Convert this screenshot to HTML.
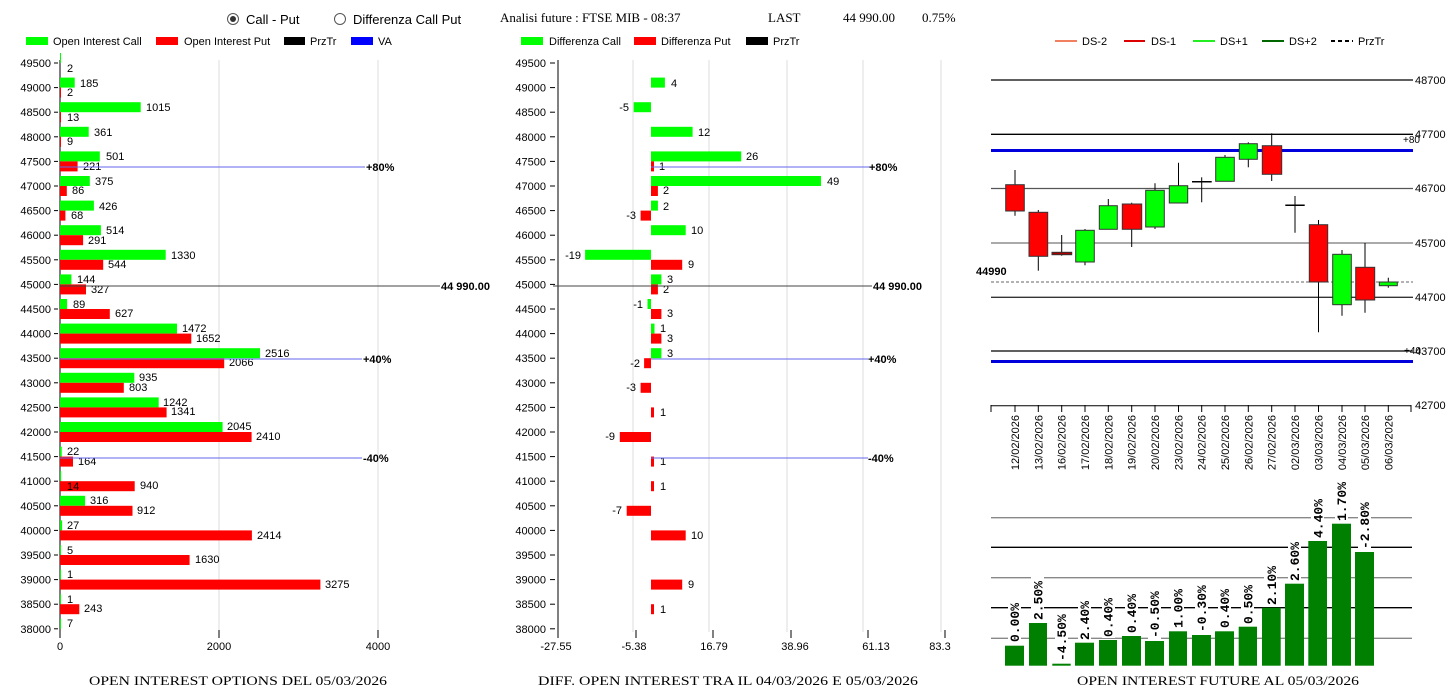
<!DOCTYPE html>
<html><head><meta charset="utf-8"><style>
html,body{margin:0;padding:0;background:#fff;width:1453px;height:690px;overflow:hidden}
svg{display:block}
.s{font-family:"Liberation Sans",sans-serif;font-size:11px;fill:#000}
.h{font-family:"Liberation Sans",sans-serif;font-size:13px;fill:#000}
.f{font-family:"Liberation Serif",serif;font-size:13px;fill:#000}
.b{font-family:"Liberation Sans",sans-serif;font-size:11px;font-weight:bold;fill:#000}
.m{font-family:"Liberation Mono",monospace;font-size:13px;font-weight:bold;fill:#000}
</style></head><body>
<svg width="1453" height="690" xmlns="http://www.w3.org/2000/svg">
<!-- header -->
<circle cx="233" cy="19" r="5.5" fill="#fff" stroke="#555"/><circle cx="233" cy="19" r="3" fill="#333"/>
<text class="h" x="246" y="24">Call - Put</text>
<circle cx="340" cy="19" r="5.5" fill="#fff" stroke="#555"/>
<text class="h" x="353" y="24">Differenza Call Put</text>
<text class="f" x="500" y="22">Analisi future : FTSE MIB - 08:37</text>
<text class="f" x="768" y="22">LAST</text>
<text class="f" x="843" y="22">44 990.00</text>
<text class="f" x="922" y="22">0.75%</text>
<!-- legends -->
<rect x="26" y="37" width="22" height="8" fill="#00ff00"/><text class="s" x="53" y="45">Open Interest Call</text>
<rect x="156" y="37" width="22" height="8" fill="#ff0000"/><text class="s" x="184" y="45">Open Interest Put</text>
<rect x="284" y="37" width="21" height="8" fill="#000"/><text class="s" x="310" y="45">PrzTr</text>
<rect x="351" y="37" width="22" height="8" fill="#0000ff"/><text class="s" x="378" y="45">VA</text>
<rect x="521" y="37" width="22" height="8" fill="#00ff00"/><text class="s" x="549" y="45">Differenza Call</text>
<rect x="634" y="37" width="22" height="8" fill="#ff0000"/><text class="s" x="661" y="45">Differenza Put</text>
<rect x="746" y="37" width="22" height="8" fill="#000"/><text class="s" x="773" y="45">PrzTr</text>
<line x1="1055" y1="41" x2="1077" y2="41" stroke="#f08060" stroke-width="2"/><text class="s" x="1082" y="45">DS-2</text>
<line x1="1124" y1="41" x2="1145" y2="41" stroke="#dd0000" stroke-width="2"/><text class="s" x="1151" y="45">DS-1</text>
<line x1="1193" y1="41" x2="1215" y2="41" stroke="#22ee22" stroke-width="2"/><text class="s" x="1220" y="45">DS+1</text>
<line x1="1262" y1="41" x2="1284" y2="41" stroke="#006600" stroke-width="2"/><text class="s" x="1289" y="45">DS+2</text>
<line x1="1331" y1="41" x2="1353" y2="41" stroke="#000" stroke-width="2" stroke-dasharray="4,3"/><text class="s" x="1358" y="45">PrzTr</text>

<!-- LEFT CHART -->
<g stroke="#dddddd"><line x1="219" y1="60" x2="219" y2="632"/><line x1="378" y1="60" x2="378" y2="632"/></g>
<line x1="60" y1="60" x2="60" y2="636" stroke="#000"/>
<g stroke="#000"><line x1="60" y1="630" x2="60" y2="638"/><line x1="219" y1="630" x2="219" y2="638"/><line x1="378" y1="630" x2="378" y2="638"/></g>
<text class="s" x="60" y="650" text-anchor="middle">0</text>
<text class="s" x="219" y="650" text-anchor="middle">2000</text>
<text class="s" x="378" y="650" text-anchor="middle">4000</text>
<g class="s" text-anchor="end">
<text x="51" y="67">49500</text><text x="51" y="91.6">49000</text><text x="51" y="116.2">48500</text><text x="51" y="140.8">48000</text><text x="51" y="165.4">47500</text><text x="51" y="190">47000</text><text x="51" y="214.6">46500</text><text x="51" y="239.2">46000</text><text x="51" y="263.8">45500</text><text x="51" y="288.4">45000</text><text x="51" y="313">44500</text><text x="51" y="337.6">44000</text><text x="51" y="362.2">43500</text><text x="51" y="386.8">43000</text><text x="51" y="411.4">42500</text><text x="51" y="436">42000</text><text x="51" y="460.6">41500</text><text x="51" y="485.2">41000</text><text x="51" y="509.8">40500</text><text x="51" y="534.4">40000</text><text x="51" y="559">39500</text><text x="51" y="583.6">39000</text><text x="51" y="608.2">38500</text><text x="51" y="632.8">38000</text>
</g>
<g stroke="#000"><line x1="54" y1="63" x2="58" y2="63"/><line x1="54" y1="87.6" x2="58" y2="87.6"/><line x1="54" y1="112.2" x2="58" y2="112.2"/><line x1="54" y1="136.8" x2="58" y2="136.8"/><line x1="54" y1="161.4" x2="58" y2="161.4"/><line x1="54" y1="186" x2="58" y2="186"/><line x1="54" y1="210.6" x2="58" y2="210.6"/><line x1="54" y1="235.2" x2="58" y2="235.2"/><line x1="54" y1="259.8" x2="58" y2="259.8"/><line x1="54" y1="284.4" x2="58" y2="284.4"/><line x1="54" y1="309" x2="58" y2="309"/><line x1="54" y1="333.6" x2="58" y2="333.6"/><line x1="54" y1="358.2" x2="58" y2="358.2"/><line x1="54" y1="382.8" x2="58" y2="382.8"/><line x1="54" y1="407.4" x2="58" y2="407.4"/><line x1="54" y1="432" x2="58" y2="432"/><line x1="54" y1="456.6" x2="58" y2="456.6"/><line x1="54" y1="481.2" x2="58" y2="481.2"/><line x1="54" y1="505.8" x2="58" y2="505.8"/><line x1="54" y1="530.4" x2="58" y2="530.4"/><line x1="54" y1="555" x2="58" y2="555"/><line x1="54" y1="579.6" x2="58" y2="579.6"/><line x1="54" y1="604.2" x2="58" y2="604.2"/><line x1="54" y1="628.8" x2="58" y2="628.8"/></g>
<g fill="#00ff00">
<rect x="60" y="53" width="1" height="10"/>
<rect x="60" y="77.6" width="14.7" height="10"/>
<rect x="60" y="102.2" width="80.7" height="10"/>
<rect x="60" y="126.8" width="28.7" height="10"/>
<rect x="60" y="151.4" width="39.8" height="10"/>
<rect x="60" y="176" width="29.8" height="10"/>
<rect x="60" y="200.6" width="33.9" height="10"/>
<rect x="60" y="225.2" width="40.9" height="10"/>
<rect x="60" y="249.8" width="105.7" height="10"/>
<rect x="60" y="274.4" width="11.4" height="10"/>
<rect x="60" y="299" width="7.1" height="10"/>
<rect x="60" y="323.6" width="117" height="10"/>
<rect x="60" y="348.2" width="200" height="10"/>
<rect x="60" y="372.8" width="74.3" height="10"/>
<rect x="60" y="397.4" width="98.7" height="10"/>
<rect x="60" y="422" width="162.6" height="10"/>
<rect x="60" y="446.6" width="1.7" height="10"/>
<rect x="60" y="471.2" width="1.1" height="10"/>
<rect x="60" y="495.8" width="25.1" height="10"/>
<rect x="60" y="520.4" width="2.1" height="10"/>
<rect x="60" y="545" width="1" height="10"/>
<rect x="60" y="569.6" width="1" height="10"/>
<rect x="60" y="594.2" width="1" height="10"/>
<rect x="60" y="618.8" width="1" height="10"/>
</g>
<g fill="#ff0000">
<rect x="60" y="87.6" width="1" height="10"/>
<rect x="60" y="112.2" width="1" height="10"/>
<rect x="60" y="136.8" width="1" height="10"/>
<rect x="60" y="161.4" width="17.6" height="10"/>
<rect x="60" y="186" width="6.8" height="10"/>
<rect x="60" y="210.6" width="5.4" height="10"/>
<rect x="60" y="235.2" width="23.1" height="10"/>
<rect x="60" y="259.8" width="43.2" height="10"/>
<rect x="60" y="284.4" width="26" height="10"/>
<rect x="60" y="309" width="49.8" height="10"/>
<rect x="60" y="333.6" width="131.3" height="10"/>
<rect x="60" y="358.2" width="164.2" height="10"/>
<rect x="60" y="382.8" width="63.8" height="10"/>
<rect x="60" y="407.4" width="106.6" height="10"/>
<rect x="60" y="432" width="191.6" height="10"/>
<rect x="60" y="456.6" width="13" height="10"/>
<rect x="60" y="481.2" width="74.7" height="10"/>
<rect x="60" y="505.8" width="72.5" height="10"/>
<rect x="60" y="530.4" width="191.9" height="10"/>
<rect x="60" y="555" width="129.6" height="10"/>
<rect x="60" y="579.6" width="260.4" height="10"/>
<rect x="60" y="604.2" width="19.3" height="10"/>
</g>
<g class="s">
<text x="67" y="72">2</text>
<text x="80" y="87">185</text><text x="67" y="96">2</text>
<text x="146" y="111">1015</text><text x="67" y="121">13</text>
<text x="94" y="136">361</text><text x="67" y="145">9</text>
<text x="106" y="160">501</text><text x="83" y="170">221</text>
<text x="95" y="185">375</text><text x="72" y="194">86</text>
<text x="99" y="210">426</text><text x="71" y="219">68</text>
<text x="106" y="234">514</text><text x="88" y="244">291</text>
<text x="171" y="259">1330</text><text x="108" y="268">544</text>
<text x="77" y="283">144</text><text x="91" y="293">327</text>
<text x="73" y="308">89</text><text x="115" y="317">627</text>
<text x="182" y="332">1472</text><text x="196" y="342">1652</text>
<text x="265" y="357">2516</text><text x="229" y="366">2066</text>
<text x="139" y="381">935</text><text x="129" y="391">803</text>
<text x="163" y="406">1242</text><text x="171" y="415">1341</text>
<text x="227" y="430">2045</text><text x="256" y="440">2410</text>
<text x="67" y="455">22</text><text x="78" y="465">164</text>
<text x="67" y="490">14</text><text x="140" y="489">940</text>
<text x="90" y="504">316</text><text x="137" y="514">912</text>
<text x="67" y="529">27</text><text x="257" y="539">2414</text>
<text x="67" y="554">5</text><text x="195" y="563">1630</text>
<text x="67" y="578">1</text><text x="325" y="588">3275</text>
<text x="67" y="603">1</text><text x="84" y="612">243</text>
<text x="67" y="627">7</text>
</g>
<line x1="60" y1="167" x2="365" y2="167" stroke="#6666ee"/><text class="b" x="366" y="171">+80%</text>
<line x1="60" y1="286" x2="440" y2="286" stroke="#444"/><text class="b" x="441" y="290">44 990.00</text>
<line x1="60" y1="359" x2="362" y2="359" stroke="#6666ee"/><text class="b" x="363" y="363">+40%</text>
<line x1="60" y1="458" x2="362" y2="458" stroke="#6666ee"/><text class="b" x="363" y="462">-40%</text>
<text class="f" x="89" y="685" textLength="298" lengthAdjust="spacingAndGlyphs">OPEN INTEREST OPTIONS DEL 05/03/2026</text>

<!-- MIDDLE CHART -->
<g stroke="#dddddd"><line x1="633" y1="60" x2="633" y2="632"/><line x1="709" y1="60" x2="709" y2="632"/><line x1="787" y1="60" x2="787" y2="632"/><line x1="863" y1="60" x2="863" y2="632"/><line x1="941" y1="60" x2="941" y2="632"/></g>
<line x1="558" y1="60" x2="558" y2="636" stroke="#000"/>
<g stroke="#000"><line x1="558" y1="630" x2="558" y2="638"/><line x1="636" y1="630" x2="636" y2="638"/><line x1="713" y1="630" x2="713" y2="638"/><line x1="791" y1="630" x2="791" y2="638"/><line x1="868" y1="630" x2="868" y2="638"/><line x1="945" y1="630" x2="945" y2="638"/></g>
<g class="s" text-anchor="middle"><text x="556" y="650">-27.55</text><text x="634" y="650">-5.38</text><text x="714" y="650">16.79</text><text x="795" y="650">38.96</text><text x="876" y="650">61.13</text><text x="940" y="650">83.3</text></g>
<g class="s" text-anchor="end">
<text x="546" y="67">49500</text><text x="546" y="91.6">49000</text><text x="546" y="116.2">48500</text><text x="546" y="140.8">48000</text><text x="546" y="165.4">47500</text><text x="546" y="190">47000</text><text x="546" y="214.6">46500</text><text x="546" y="239.2">46000</text><text x="546" y="263.8">45500</text><text x="546" y="288.4">45000</text><text x="546" y="313">44500</text><text x="546" y="337.6">44000</text><text x="546" y="362.2">43500</text><text x="546" y="386.8">43000</text><text x="546" y="411.4">42500</text><text x="546" y="436">42000</text><text x="546" y="460.6">41500</text><text x="546" y="485.2">41000</text><text x="546" y="509.8">40500</text><text x="546" y="534.4">40000</text><text x="546" y="559">39500</text><text x="546" y="583.6">39000</text><text x="546" y="608.2">38500</text><text x="546" y="632.8">38000</text>
</g>
<g stroke="#000"><line x1="550" y1="63" x2="555" y2="63"/><line x1="550" y1="87.6" x2="555" y2="87.6"/><line x1="550" y1="112.2" x2="555" y2="112.2"/><line x1="550" y1="136.8" x2="555" y2="136.8"/><line x1="550" y1="161.4" x2="555" y2="161.4"/><line x1="550" y1="186" x2="555" y2="186"/><line x1="550" y1="210.6" x2="555" y2="210.6"/><line x1="550" y1="235.2" x2="555" y2="235.2"/><line x1="550" y1="259.8" x2="555" y2="259.8"/><line x1="550" y1="284.4" x2="555" y2="284.4"/><line x1="550" y1="309" x2="555" y2="309"/><line x1="550" y1="333.6" x2="555" y2="333.6"/><line x1="550" y1="358.2" x2="555" y2="358.2"/><line x1="550" y1="382.8" x2="555" y2="382.8"/><line x1="550" y1="407.4" x2="555" y2="407.4"/><line x1="550" y1="432" x2="555" y2="432"/><line x1="550" y1="456.6" x2="555" y2="456.6"/><line x1="550" y1="481.2" x2="555" y2="481.2"/><line x1="550" y1="505.8" x2="555" y2="505.8"/><line x1="550" y1="530.4" x2="555" y2="530.4"/><line x1="550" y1="555" x2="555" y2="555"/><line x1="550" y1="579.6" x2="555" y2="579.6"/><line x1="550" y1="604.2" x2="555" y2="604.2"/><line x1="550" y1="628.8" x2="555" y2="628.8"/></g>
<g fill="#00ff00">
<rect x="651" y="77.6" width="13.9" height="10"/>
<rect x="633.7" y="102.2" width="17.3" height="10"/>
<rect x="651" y="126.8" width="41.6" height="10"/>
<rect x="651" y="151.4" width="90.2" height="10"/>
<rect x="651" y="176" width="170" height="10"/>
<rect x="651" y="200.6" width="6.9" height="10"/>
<rect x="651" y="225.2" width="34.7" height="10"/>
<rect x="585.1" y="249.8" width="65.9" height="10"/>
<rect x="651" y="274.4" width="10.4" height="10"/>
<rect x="647.5" y="299" width="3.5" height="10"/>
<rect x="651" y="323.6" width="3.5" height="10"/>
<rect x="651" y="348.2" width="10.4" height="10"/>
</g>
<g fill="#ff0000">
<rect x="651" y="161.4" width="3" height="10"/>
<rect x="651" y="186" width="6.9" height="10"/>
<rect x="640.6" y="210.6" width="10.4" height="10"/>
<rect x="651" y="259.8" width="31.2" height="10"/>
<rect x="651" y="284.4" width="6.9" height="10"/>
<rect x="651" y="309" width="10.4" height="10"/>
<rect x="651" y="333.6" width="10.4" height="10"/>
<rect x="644.1" y="358.2" width="6.9" height="10"/>
<rect x="640.6" y="382.8" width="10.4" height="10"/>
<rect x="651" y="407.4" width="3" height="10"/>
<rect x="619.8" y="432" width="31.2" height="10"/>
<rect x="651" y="456.6" width="3" height="10"/>
<rect x="651" y="481.2" width="3" height="10"/>
<rect x="626.7" y="505.8" width="24.3" height="10"/>
<rect x="651" y="530.4" width="34.7" height="10"/>
<rect x="651" y="579.6" width="31.2" height="10"/>
<rect x="651" y="604.2" width="3" height="10"/>
</g>
<g class="s">
<text x="671" y="87">4</text>
<text x="629" y="111" text-anchor="end">-5</text>
<text x="698" y="136">12</text>
<text x="746" y="160">26</text><text x="659" y="170">1</text>
<text x="827" y="185">49</text><text x="663" y="194">2</text>
<text x="663" y="210">2</text><text x="636" y="219" text-anchor="end">-3</text>
<text x="691" y="234">10</text>
<text x="581" y="259" text-anchor="end">-19</text><text x="688" y="268">9</text>
<text x="667" y="283">3</text><text x="663" y="293">2</text>
<text x="643" y="308" text-anchor="end">-1</text><text x="667" y="317">3</text>
<text x="660" y="332">1</text><text x="667" y="342">3</text>
<text x="667" y="357">3</text><text x="640" y="367" text-anchor="end">-2</text>
<text x="636" y="391" text-anchor="end">-3</text>
<text x="660" y="416">1</text>
<text x="615" y="440" text-anchor="end">-9</text>
<text x="660" y="465">1</text>
<text x="660" y="490">1</text>
<text x="622" y="514" text-anchor="end">-7</text>
<text x="691" y="539">10</text>
<text x="688" y="588">9</text>
<text x="660" y="613">1</text>
</g>
<line x1="651" y1="167" x2="870" y2="167" stroke="#6666ee"/><text class="b" x="869" y="171">+80%</text>
<line x1="553" y1="286" x2="872" y2="286" stroke="#444"/><text class="b" x="873" y="290">44 990.00</text>
<line x1="651" y1="359" x2="868" y2="359" stroke="#6666ee"/><text class="b" x="868" y="363">+40%</text>
<line x1="651" y1="458" x2="868" y2="458" stroke="#6666ee"/><text class="b" x="868" y="462">-40%</text>
<text class="f" x="538" y="685" textLength="380" lengthAdjust="spacingAndGlyphs">DIFF. OPEN INTEREST TRA IL 04/03/2026 E 05/03/2026</text>

<!-- RIGHT CANDLE CHART -->
<g stroke-width="1.3">
<line x1="991" y1="80" x2="1413" y2="80" stroke="#000"/>
<line x1="991" y1="134.3" x2="1413" y2="134.3" stroke="#000"/>
<line x1="991" y1="188.5" x2="1413" y2="188.5" stroke="#555"/>
<line x1="991" y1="243" x2="1413" y2="243" stroke="#777"/>
<line x1="991" y1="297.3" x2="1413" y2="297.3" stroke="#333"/>
<line x1="991" y1="351" x2="1413" y2="351" stroke="#000"/>
</g>
<line x1="991" y1="150.5" x2="1413" y2="150.5" stroke="#0000dd" stroke-width="3"/>
<line x1="991" y1="361.5" x2="1413" y2="361.5" stroke="#0000dd" stroke-width="3"/>
<line x1="991" y1="282" x2="1413" y2="282" stroke="#666" stroke-dasharray="3,2"/>
<text class="b" x="976" y="275" font-size="11">44990</text>
<g class="s">
<text x="1415" y="84">48700</text><text x="1415" y="138">47700</text><text x="1403" y="143" font-size="10">+80</text>
<text x="1415" y="192">46700</text><text x="1415" y="247">45700</text><text x="1415" y="301">44700</text>
<text x="1415" y="355">43700</text><text x="1404" y="354" font-size="10">+40</text><text x="1415" y="409">42700</text>
</g>
<g stroke="#000" stroke-width="1">
<line x1="1015" y1="170" x2="1015" y2="215.7"/>
<line x1="1038.3" y1="210" x2="1038.3" y2="270.7"/>
<line x1="1061.7" y1="235" x2="1061.7" y2="255.7"/>
<line x1="1085" y1="229" x2="1085" y2="265.3"/>
<line x1="1108.3" y1="199" x2="1108.3" y2="229"/>
<line x1="1131.7" y1="202.7" x2="1131.7" y2="247"/>
<line x1="1155" y1="183.3" x2="1155" y2="229"/>
<line x1="1178.5" y1="162.7" x2="1178.5" y2="203"/>
<line x1="1201.7" y1="177.3" x2="1201.7" y2="202.3"/>
<line x1="1225" y1="155" x2="1225" y2="181"/>
<line x1="1248.3" y1="142.3" x2="1248.3" y2="167.3"/>
<line x1="1271.7" y1="133.3" x2="1271.7" y2="181"/>
<line x1="1295" y1="196" x2="1295" y2="232.7"/>
<line x1="1318.5" y1="220" x2="1318.5" y2="332.3"/>
<line x1="1342" y1="250" x2="1342" y2="315.7"/>
<line x1="1365" y1="243" x2="1365" y2="312.7"/>
<line x1="1388.3" y1="277.7" x2="1388.3" y2="287.7"/>
<line x1="1192" y1="181.7" x2="1211.7" y2="181.7" stroke-width="1.5"/>
<line x1="1285.3" y1="205.3" x2="1304.7" y2="205.3" stroke-width="1.5"/>
</g>
<g stroke="#333" stroke-width="1">
<rect x="1005.7" y="184.7" width="18.6" height="26.3" fill="#ff0000"/>
<rect x="1029" y="212.3" width="18.7" height="44" fill="#ff0000"/>
<rect x="1052" y="252.3" width="19.7" height="2.4" fill="#aa0000"/>
<rect x="1075.7" y="230.3" width="18.6" height="31.7" fill="#00ff00"/>
<rect x="1099.3" y="205.7" width="18" height="23.6" fill="#00ff00"/>
<rect x="1122.3" y="204" width="19.4" height="25.3" fill="#ff0000"/>
<rect x="1145.7" y="190.3" width="18.6" height="36.7" fill="#00ff00"/>
<rect x="1169.3" y="185.7" width="18.4" height="17.3" fill="#00ff00"/>
<rect x="1215.7" y="157.3" width="18.6" height="24" fill="#00ff00"/>
<rect x="1239.3" y="143.7" width="18" height="15.6" fill="#00ff00"/>
<rect x="1262.3" y="145.7" width="19.4" height="28.6" fill="#ff0000"/>
<rect x="1309.3" y="224.7" width="18.4" height="57.3" fill="#ff0000"/>
<rect x="1332.7" y="254.3" width="18.6" height="50.4" fill="#00ff00"/>
<rect x="1355.7" y="267.3" width="19" height="32.7" fill="#ff0000"/>
<rect x="1379.3" y="282" width="18" height="3.7" fill="#00ff00"/>
</g>
<line x1="991" y1="405.7" x2="1411" y2="405.7" stroke="#000"/>
<g stroke="#000"><line x1="991" y1="405" x2="991" y2="412"/><line x1="1411" y1="405" x2="1411" y2="412"/>
<line x1="1015" y1="405" x2="1015" y2="412"/><line x1="1038.3" y1="405" x2="1038.3" y2="412"/><line x1="1061.7" y1="405" x2="1061.7" y2="412"/><line x1="1085" y1="405" x2="1085" y2="412"/><line x1="1108.3" y1="405" x2="1108.3" y2="412"/><line x1="1131.7" y1="405" x2="1131.7" y2="412"/><line x1="1155" y1="405" x2="1155" y2="412"/><line x1="1178.5" y1="405" x2="1178.5" y2="412"/><line x1="1201.7" y1="405" x2="1201.7" y2="412"/><line x1="1225" y1="405" x2="1225" y2="412"/><line x1="1248.3" y1="405" x2="1248.3" y2="412"/><line x1="1271.7" y1="405" x2="1271.7" y2="412"/><line x1="1295" y1="405" x2="1295" y2="412"/><line x1="1318.5" y1="405" x2="1318.5" y2="412"/><line x1="1342" y1="405" x2="1342" y2="412"/><line x1="1365" y1="405" x2="1365" y2="412"/><line x1="1388.3" y1="405" x2="1388.3" y2="412"/></g>
<g class="s" font-size="10" text-anchor="end">
<text transform="translate(1019,415) rotate(-90)">12/02/2026</text>
<text transform="translate(1042.3,415) rotate(-90)">13/02/2026</text>
<text transform="translate(1065.7,415) rotate(-90)">16/02/2026</text>
<text transform="translate(1089,415) rotate(-90)">17/02/2026</text>
<text transform="translate(1112.3,415) rotate(-90)">18/02/2026</text>
<text transform="translate(1135.7,415) rotate(-90)">19/02/2026</text>
<text transform="translate(1159,415) rotate(-90)">20/02/2026</text>
<text transform="translate(1182.5,415) rotate(-90)">23/02/2026</text>
<text transform="translate(1205.7,415) rotate(-90)">24/02/2026</text>
<text transform="translate(1229,415) rotate(-90)">25/02/2026</text>
<text transform="translate(1252.3,415) rotate(-90)">26/02/2026</text>
<text transform="translate(1275.7,415) rotate(-90)">27/02/2026</text>
<text transform="translate(1299,415) rotate(-90)">02/03/2026</text>
<text transform="translate(1322.5,415) rotate(-90)">03/03/2026</text>
<text transform="translate(1346,415) rotate(-90)">04/03/2026</text>
<text transform="translate(1369,415) rotate(-90)">05/03/2026</text>
<text transform="translate(1392.3,415) rotate(-90)">06/03/2026</text>
</g>

<!-- BOTTOM BAR CHART -->
<g stroke-width="1.3">
<line x1="991" y1="517.7" x2="1412" y2="517.7" stroke="#888"/>
<line x1="991" y1="547.3" x2="1412" y2="547.3" stroke="#000"/>
<line x1="991" y1="577.7" x2="1412" y2="577.7" stroke="#888"/>
<line x1="991" y1="607.7" x2="1412" y2="607.7" stroke="#000"/>
<line x1="991" y1="638.3" x2="1412" y2="638.3" stroke="#888"/>
</g>
<g fill="#008000">
<rect x="1005" y="645.7" width="19" height="20"/>
<rect x="1029" y="623" width="18" height="42.7"/>
<rect x="1052.3" y="663.7" width="18.4" height="2"/>
<rect x="1075" y="642.7" width="19" height="23"/>
<rect x="1099" y="640" width="18" height="25.7"/>
<rect x="1122" y="636" width="19" height="29.7"/>
<rect x="1145" y="641" width="19" height="24.7"/>
<rect x="1169" y="631.3" width="18" height="34.4"/>
<rect x="1192" y="635" width="19" height="30.7"/>
<rect x="1215" y="631.3" width="19" height="34.4"/>
<rect x="1238.7" y="626.7" width="18.3" height="39"/>
<rect x="1262" y="607.7" width="18.7" height="58"/>
<rect x="1285" y="583.7" width="19" height="82"/>
<rect x="1308.3" y="541" width="18.7" height="124.7"/>
<rect x="1332" y="523.7" width="19" height="142"/>
<rect x="1355" y="552" width="19" height="113.7"/>
</g>
<g fill="#fff">
<rect x="1008" y="599" width="13" height="44"/>
<rect x="1031" y="577" width="13" height="44"/>
<rect x="1055" y="612" width="13" height="50"/>
<rect x="1078" y="597" width="13" height="44"/>
<rect x="1102" y="594" width="13" height="44"/>
<rect x="1125" y="590" width="13" height="44"/>
<rect x="1148" y="590" width="13" height="49"/>
<rect x="1171" y="585" width="13" height="44"/>
<rect x="1195" y="584" width="13" height="49"/>
<rect x="1218" y="585" width="13" height="44"/>
<rect x="1241" y="581" width="13" height="44"/>
<rect x="1264" y="562" width="13" height="44"/>
<rect x="1288" y="538" width="13" height="44"/>
<rect x="1311" y="495" width="13" height="44"/>
<rect x="1335" y="478" width="13" height="44"/>
<rect x="1358" y="502" width="13" height="48"/>
</g>
<g class="m">
<text transform="translate(1019,642) rotate(-90)">0.00%</text>
<text transform="translate(1042.5,620) rotate(-90)">2.50%</text>
<text transform="translate(1066,661) rotate(-90)">-4.50%</text>
<text transform="translate(1089,640) rotate(-90)">2.40%</text>
<text transform="translate(1112.5,637) rotate(-90)">0.40%</text>
<text transform="translate(1136,633) rotate(-90)">0.40%</text>
<text transform="translate(1159,638) rotate(-90)">-0.50%</text>
<text transform="translate(1182.5,628) rotate(-90)">1.00%</text>
<text transform="translate(1206,632) rotate(-90)">-0.30%</text>
<text transform="translate(1229,628) rotate(-90)">0.40%</text>
<text transform="translate(1252.5,624) rotate(-90)">0.50%</text>
<text transform="translate(1276,605) rotate(-90)">2.10%</text>
<text transform="translate(1299,581) rotate(-90)">2.60%</text>
<text transform="translate(1322.5,538) rotate(-90)">4.40%</text>
<text transform="translate(1346,521) rotate(-90)">1.70%</text>
<text transform="translate(1369,549) rotate(-90)">-2.80%</text>
</g>
<text class="f" x="1077" y="685" textLength="282" lengthAdjust="spacingAndGlyphs">OPEN INTEREST FUTURE AL 05/03/2026</text>
</svg>
</body></html>
